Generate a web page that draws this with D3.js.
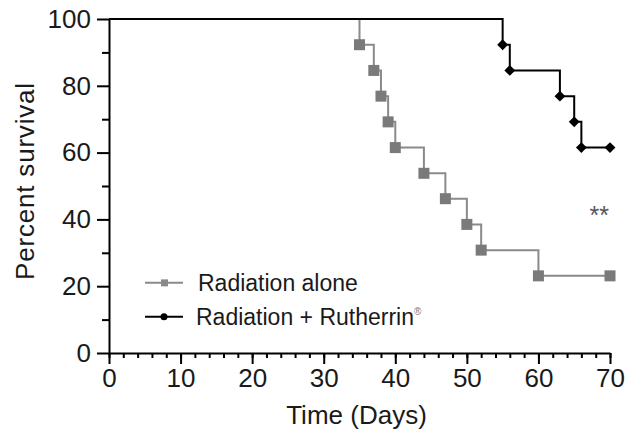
<!DOCTYPE html>
<meta charset="utf-8">
<style>
body { margin: 0; background: #fff; }
text { font-family: "Liberation Sans", Arial, sans-serif; fill: #1a1a1a; }
.axis path, .axis line { stroke: #000; stroke-width: 2px; }
.axis text { font-size: 26px; fill: #1a1a1a; }
.curve { fill: none; stroke-width: 2px; }
</style>
<body>
<script src="https://d3js.org/d3.v7.min.js"></script>
<script>
// survival data (percent)
var aloneDays = [0, 35, 37, 38, 39, 40, 44, 47, 50, 52, 60, 70];
var aloneSurv = [100, 92.3, 84.6, 76.9, 69.2, 61.5, 53.8, 46.2, 38.5, 30.8, 23.1, 23.1];
var comboDays = [0, 55, 56, 63, 65, 66, 70];
var comboSurv = [100, 92.3, 84.6, 76.9, 69.2, 61.5, 61.5];
var xTicks = [0, 10, 20, 30, 40, 50, 60, 70];
var yTicks = [0, 20, 40, 60, 80, 100];
var seriesNames = ["Radiation alone", "Radiation + Rutherrin"];

var margin = {top: 19, right: 26, bottom: 79, left: 109},
    width = 636 - margin.left - margin.right,
    height = 432 - margin.top - margin.bottom;

var x = d3.scaleLinear().domain([0, 70]).range([0, width]);
var y = d3.scaleLinear().domain([0, 100]).range([height, 0]);

var svg = d3.select("body").append("svg")
    .attr("width", 636)
    .attr("height", 432)
  .append("g")
    .attr("transform", "translate(" + margin.left + "," + margin.top + ")");

// minor ticks first, under the major axes
svg.append("g")
    .attr("class", "axis")
    .attr("transform", "translate(0," + height + ")")
    .call(d3.axisBottom(x).tickValues(d3.range(0, 71, 2)).tickSize(5).tickFormat(""))
    .select(".domain").remove();
svg.append("g")
    .attr("class", "axis")
    .call(d3.axisLeft(y).tickValues(d3.range(10, 100, 20)).tickSize(7).tickFormat(""))
    .select(".domain").remove();

// X axis
svg.append("g")
    .attr("class", "axis")
    .attr("transform", "translate(0," + height + ")")
    .call(d3.axisBottom(x).tickValues(xTicks).tickSize(11).tickPadding(5).tickSizeOuter(0));

// Y axis
svg.append("g")
    .attr("class", "axis")
    .call(d3.axisLeft(y).tickValues(yTicks).tickSize(12).tickPadding(6).tickSizeOuter(0));

var step = d3.line()
    .curve(d3.curveStepAfter)
    .x(function(d) { return x(d[0]); })
    .y(function(d) { return y(d[1]); });

var alone = d3.zip(aloneDays, aloneSurv);
var combo = d3.zip(comboDays, comboSurv);

// radiation alone (grey squares)
svg.append("path")
    .datum(alone)
    .attr("class", "curve")
    .attr("stroke", "#8a8a8a")
    .attr("d", step);
svg.selectAll(".sq")
    .data(alone.slice(1))
  .enter().append("rect")
    .attr("class", "sq")
    .attr("x", function(d) { return x(d[0]) - 5.5; })
    .attr("y", function(d) { return y(d[1]) - 5.5; })
    .attr("width", 11)
    .attr("height", 11)
    .attr("fill", "#7a7a7a");

// radiation + rutherrin (black diamonds)
svg.append("path")
    .datum(combo)
    .attr("class", "curve")
    .attr("stroke", "#000")
    .attr("d", step);
svg.selectAll(".dm")
    .data(combo.slice(1))
  .enter().append("path")
    .attr("class", "dm")
    .attr("d", d3.symbol().type(d3.symbolDiamond2).size(75))
    .attr("transform", function(d) { return "translate(" + x(d[0]) + "," + y(d[1]) + ")"; })
    .attr("fill", "#000");

// significance
svg.append("text")
    .attr("x", x(68.5))
    .attr("y", y(38.5))
    .attr("text-anchor", "middle")
    .style("font-size", "25px")
    .style("fill", "#555")
    .text("**");

// legend
var legend = svg.append("g").attr("transform", "translate(36," + y(21) + ")");
legend.append("line").attr("x1", 0).attr("x2", 38).attr("y1", 0).attr("y2", 0)
    .attr("stroke", "#8a8a8a").attr("stroke-width", 2);
legend.append("rect").attr("x", 16).attr("y", -3.5).attr("width", 7).attr("height", 7)
    .attr("fill", "#8a8a8a");
legend.append("text").attr("x", 53).attr("y", 8).style("font-size", "23px").text(seriesNames[0]);

legend.append("line").attr("x1", 0).attr("x2", 38).attr("y1", 34).attr("y2", 34)
    .attr("stroke", "#000").attr("stroke-width", 2);
legend.append("circle").attr("cx", 19).attr("cy", 34).attr("r", 3.5).attr("fill", "#000");
var t2 = legend.append("text").attr("x", 51).attr("y", 42).style("font-size", "23px").text(seriesNames[1]);
t2.append("tspan").attr("dy", -10).style("font-size", "10px").style("fill", "#777").text("®");

// axis titles
svg.append("text")
    .attr("transform", "rotate(-90)")
    .attr("x", -162)
    .attr("y", -75)
    .attr("text-anchor", "middle")
    .style("font-size", "26px")
    .style("letter-spacing", "0.8px")
    .text("Percent survival");

svg.append("text")
    .attr("x", x(35) - 3)
    .attr("y", height + 71)
    .attr("text-anchor", "middle")
    .style("font-size", "26px")
    .text("Time (Days)");
</script>
</body>
